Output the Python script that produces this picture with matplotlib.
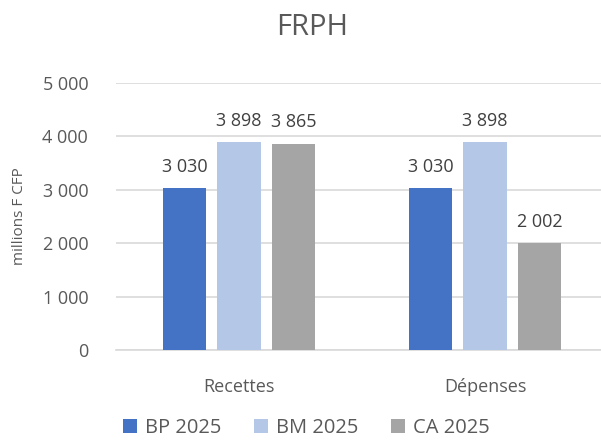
import numpy as np
import matplotlib.pyplot as plt

plt.rcParams['font.family'] = ['Open Sans', 'DejaVu Sans']

categories = ["Recettes", "Dépenses"]
series = ["BP 2025", "BM 2025", "CA 2025"]
values = {
    "BP 2025": [3030, 3030],
    "BM 2025": [3898, 3898],
    "CA 2025": [3865, 2002],
}
colors = ["#4472C4", "#B4C7E7", "#A5A5A5"]
text_col = "#595959"


def fmt(v):
    return "{:,}".format(int(v)).replace(",", " ")


fig = plt.figure(figsize=(6.01, 4.41), dpi=100)
ax = fig.add_axes([116 / 601, 91 / 441, 492 / 601, 267 / 441])

x = np.arange(len(categories))
w = 0.175
offs = [-0.2215, 0, 0.2215]
for s, c, o in zip(series, colors, offs):
    bars = ax.bar(x + o, values[s], w, color=c, label=s, zorder=3)
    for b, v in zip(bars, values[s]):
        ax.text(b.get_x() + b.get_width() / 2, v + 230, fmt(v), ha="center", va="bottom",
                fontsize=13, color="#404040")

ax.set_xlim(-0.5, 1.5)
ax.set_ylim(0, 5000)
ax.set_yticks(np.arange(0, 5001, 1000))
ax.set_yticklabels([fmt(t) for t in np.arange(0, 5001, 1000)])
ax.set_xticks(x)
ax.set_xticklabels(categories)
ax.tick_params(axis="both", length=0, labelsize=13, colors=text_col)
ax.tick_params(axis="x", pad=20)
ax.tick_params(axis="y", pad=20)
ax.grid(axis="y", color="#D9D9D9", linewidth=1.2, zorder=0)
for sp in ["top", "right", "left"]:
    ax.spines[sp].set_visible(False)
ax.spines["bottom"].set_color("#D9D9D9")
ax.spines["bottom"].set_linewidth(1.2)

ax.set_ylabel("millions F CFP", fontsize=11, color=text_col)
ax.yaxis.set_label_coords(-0.18, 0.5)
fig.text(0.52, 0.937, "FRPH", ha="center", va="center", fontsize=21, color=text_col)

fig.legend(loc="center", bbox_to_anchor=(0.51, 0.03), ncol=3, frameon=False,
           fontsize=14.5, handlelength=0.7, handleheight=0.7, columnspacing=1.6,
           handletextpad=0.4, labelcolor=text_col, borderpad=0.1)

fig.savefig("out.png", dpi=100)
